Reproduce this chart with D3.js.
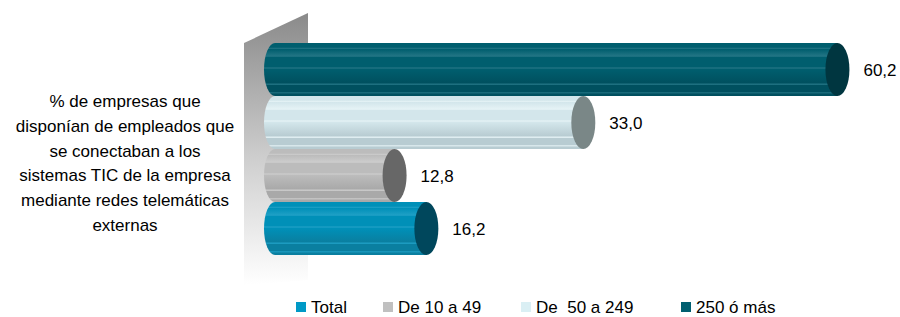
<!DOCTYPE html>
<html>
<head>
<meta charset="utf-8">
<script src="https://cdn.jsdelivr.net/npm/d3@7"></script>
<style>
  body { margin: 0; background: #fff; }
  svg text { font-family: "Liberation Sans", Arial, sans-serif; fill: #000; }
</style>
</head>
<body>
<svg></svg>
<script>
const size = {w: 900, h: 317};
const svg = d3.select('svg').attr('width', size.w).attr('height', size.h);

// data
const series = ['250 ó más', 'De  50 a 249', 'De 10 a 49', 'Total'];
const values = [60.2, 33.0, 12.8, 16.2];
const legendOrder = ['Total', 'De 10 a 49', 'De  50 a 249', '250 ó más'];
const question = ['% de empresas que', 'disponían de empleados que', 'se conectaban a los',
                  'sistemas TIC de la empresa', 'mediante redes telemáticas', 'externas'];

const colors = {
    'Total':        {light: '#1fa0c6', base: '#0090b8', dark: '#0a7fa0', cap: '#00475c', key: '#0099c6'},
    'De 10 a 49':   {light: '#cdcdcd', base: '#bcbcbc', dark: '#a9a9a9', cap: '#676767', key: '#c0c0c0'},
    'De  50 a 249': {light: '#e6f3f6', base: '#d3e6eb', dark: '#b8ccd2', cap: '#7a8787', key: '#daeff4'},
    '250 ó más':    {light: '#237585', base: '#005e6e', dark: '#00505f', cap: '#003640', key: '#005f70'}
};

const x = d3.scaleLinear().domain([0, 70]).range([275, 929]);
const y = d3.scaleBand().domain(series).range([43, 255]).padding(0);

const defs = svg.append('defs');

// back wall gradient
let wallGrad = defs.append('linearGradient').attr('id', 'wall')
    .attr('x1', 0).attr('y1', 0).attr('x2', 0).attr('y2', 1);
wallGrad.append('stop').attr('offset', 0).attr('stop-color', '#8a8a8a');
wallGrad.append('stop').attr('offset', 0.55).attr('stop-color', '#d0d0d0');
wallGrad.append('stop').attr('offset', 1).attr('stop-color', '#ffffff');

svg.append('path')
    .attr('d', 'M244,43 L308,13 L308,280 L244,285 Z')
    .attr('fill', 'url(#wall)');

// cylinder gradients with horizontal streaks
series.forEach(function (s, i) {
    let c = colors[s];
    let g = defs.append('linearGradient').attr('id', 'cyl' + i)
        .attr('x1', 0).attr('y1', 0).attr('x2', 0).attr('y2', 1);
    let stops = [
        [0, c.base], [0.08, c.base], [0.1, c.light], [0.12, c.base],
        [0.25, c.light], [0.27, c.base], [0.45, c.base], [0.47, c.light],
        [0.5, c.base], [0.75, c.dark], [0.78, c.light], [0.8, c.dark],
        [0.92, c.dark], [0.94, c.light], [0.96, c.dark], [1, c.dark]
    ];
    stops.forEach(function (st) {
        g.append('stop').attr('offset', st[0]).attr('stop-color', st[1]);
    });
});

let barG = svg.append('g').classed('bars', true);

let bars = barG.selectAll('g.bar')
    .data(series.map((s, i) => ({s: s, v: values[i], i: i})))
    .enter()
    .append('g')
    .attr('class', 'bar');

const rxL = 11, rxR = 12;

// left rounded end
bars.append('ellipse')
    .attr('cx', x(0))
    .attr('cy', d => y(d.s) + y.bandwidth() / 2)
    .attr('rx', rxL)
    .attr('ry', y.bandwidth() / 2)
    .attr('fill', d => 'url(#cyl' + d.i + ')');

// body
bars.append('rect')
    .attr('x', x(0))
    .attr('y', d => y(d.s))
    .attr('width', d => x(d.v) - x(0))
    .attr('height', y.bandwidth())
    .attr('fill', d => 'url(#cyl' + d.i + ')');

// right cap
bars.append('ellipse')
    .attr('cx', d => x(d.v))
    .attr('cy', d => y(d.s) + y.bandwidth() / 2)
    .attr('rx', rxR)
    .attr('ry', y.bandwidth() / 2)
    .attr('fill', d => colors[d.s].cap);

// value labels
bars.append('text')
    .attr('x', d => x(d.v) + 26)
    .attr('y', d => y(d.s) + y.bandwidth() / 2 + 6)
    .attr('font-size', 17)
    .text(d => d3.format('.1f')(d.v).replace('.', ','));

// category text on the left
svg.append('g').selectAll('text')
    .data(question)
    .enter()
    .append('text')
    .attr('x', 125)
    .attr('y', (d, i) => 107 + i * 24.8)
    .attr('text-anchor', 'middle')
    .attr('font-size', 17)
    .text(d => d);

// legend
const legendX = [296, 383, 521, 681];
let leg = svg.append('g').selectAll('g')
    .data(legendOrder)
    .enter()
    .append('g')
    .attr('transform', (d, i) => 'translate(' + legendX[i] + ',302)');

leg.append('rect')
    .attr('width', 10).attr('height', 10)
    .attr('fill', d => colors[d].key);

leg.append('text')
    .attr('x', 15)
    .attr('y', 11)
    .attr('font-size', 17)
    .text(d => d)
    .style('white-space', 'pre');
</script>
</body>
</html>
